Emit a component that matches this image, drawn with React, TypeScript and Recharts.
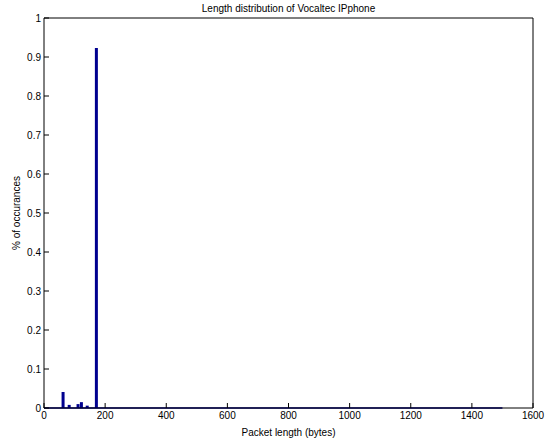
import { BarChart, Bar, XAxis, YAxis, ReferenceLine } from "recharts"

// histogram bins (bin centre in bytes) and share of occurrences
const binCenters = [63, 83, 112, 123, 142, 172]
const shares = [0.041, 0.008, 0.01, 0.015, 0.006, 0.923]
const xTicks = [0, 200, 400, 600, 800, 1000, 1200, 1400, 1600]
const yTicks = [0, 0.1, 0.2, 0.3, 0.4, 0.5, 0.6, 0.7, 0.8, 0.9, 1]
const histEnd = 1500

const data = binCenters.map((len, i) => ({ len, share: shares[i] }))

const font = "Arial, 'Liberation Sans', Helvetica, sans-serif"
const barColor = "#00008f"

export default function App() {
  return (
    <div style={{ position: "absolute", left: 0, top: 0, width: 545, height: 444, background: "#fff", fontFamily: font }}>
      <div
        style={{
          position: "absolute",
          top: 3,
          left: 44,
          width: 489,
          textAlign: "center",
          fontSize: 10,
          color: "#000",
        }}
      >
        Length distribution of Vocaltec IPphone
      </div>
      <BarChart width={545} height={444} data={data} margin={{ top: 0, right: 0, bottom: 0, left: 0 }}>
        <XAxis
          xAxisId="bottom"
          dataKey="len"
          type="number"
          domain={[0, 1600]}
          ticks={xTicks}
          allowDataOverflow
          height={36}
          tickSize={-5}
          tickMargin={9}
          axisLine={{ stroke: "#000" }}
          tickLine={{ stroke: "#000" }}
          tick={{ fill: "#000", fontSize: 10, fontFamily: font }}
          label={{ value: "Packet length (bytes)", position: "insideBottom", offset: 8, fill: "#000", fontSize: 10, fontFamily: font }}
        />
        <XAxis
          xAxisId="top"
          orientation="top"
          type="number"
          domain={[0, 1600]}
          ticks={xTicks}
          height={18}
          tickSize={-5}
          tick={false}
          axisLine={{ stroke: "#000" }}
          tickLine={{ stroke: "#000" }}
        />
        <YAxis
          yAxisId="left"
          type="number"
          domain={[0, 1]}
          ticks={yTicks}
          width={44}
          tickSize={-5}
          tickMargin={8}
          axisLine={{ stroke: "#000" }}
          tickLine={{ stroke: "#000" }}
          tick={{ fill: "#000", fontSize: 10, fontFamily: font }}
          label={{ value: "% of occurances", angle: -90, position: "insideLeft", offset: 16, fill: "#000", fontSize: 10, fontFamily: font, style: { textAnchor: "middle" } }}
        />
        <YAxis
          yAxisId="right"
          orientation="right"
          type="number"
          domain={[0, 1]}
          ticks={yTicks}
          width={12}
          tickSize={-5}
          tick={false}
          axisLine={{ stroke: "#000" }}
          tickLine={{ stroke: "#000" }}
        />
        <ReferenceLine
          xAxisId="bottom"
          yAxisId="left"
          segment={[{ x: 0, y: 0 }, { x: histEnd, y: 0 }]}
          stroke={barColor}
          strokeWidth={1.5}
        />
        <Bar xAxisId="bottom" yAxisId="left" dataKey="share" fill={barColor} barSize={3} isAnimationActive={false} />
      </BarChart>
    </div>
  )
}
